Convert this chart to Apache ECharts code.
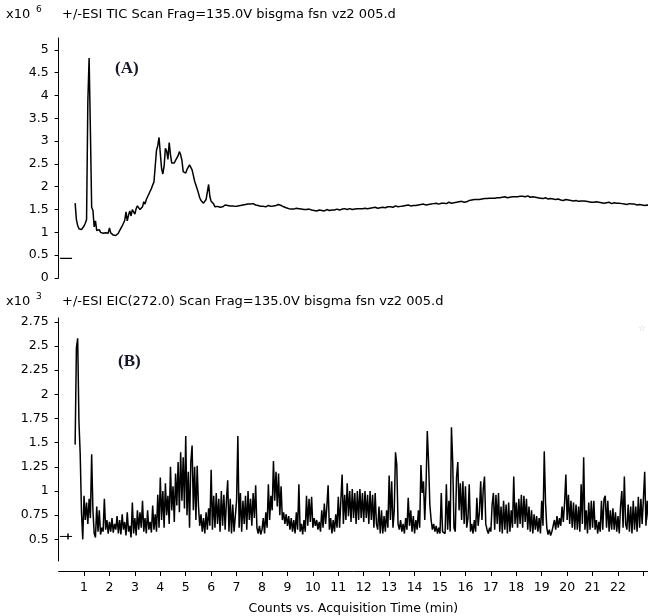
<!DOCTYPE html>
<html>
<head>
<meta charset="utf-8">
<script src="https://cdn.jsdelivr.net/npm/echarts@6/dist/echarts.min.js"></script>
<style>html,body{margin:0;padding:0;background:#fff}#c{width:648px;height:616px}</style>
</head>
<body>
<div id="c"></div>
<script>
// acquisition time of first scan and scan spacing (min)
const T0 = 0.65;
const DT = 0.05;
// TIC intensities (x10^6), one per scan
const tic = [
1.64,1.28,1.15,1.08,1.05,1.06,1.10,
1.14,1.20,1.28,3.86,4.82,3.25,1.55,1.48,1.12,1.25,1.04,1.02,1.06,1.00,1.02,0.98,1.01,0.99,1.03,0.98,
1.10,0.99,0.97,0.94,0.95,0.93,0.96,0.98,1.04,1.08,1.14,1.20,1.26,1.45,1.25,1.38,1.47,1.36,1.50,1.53,
1.40,1.52,1.58,1.60,1.50,1.47,1.56,1.67,1.62,1.72,1.78,1.84,1.90,1.96,2.04,2.10,2.45,2.80,2.90,3.08,
2.73,2.40,2.28,2.45,2.84,2.78,2.60,2.97,2.70,2.52,2.55,2.52,2.58,2.62,2.68,2.77,2.70,2.58,2.33,2.36,
2.30,2.38,2.42,2.48,2.44,2.37,2.25,2.12,2.04,1.95,1.86,1.76,1.70,1.66,1.64,1.68,1.72,1.70,2.05,1.78,
1.68,1.66,1.62,1.56,1.55,1.57,1.56,1.55,1.57,1.56,1.58,1.60,1.61,1.59,1.60,1.58,1.57,1.58,1.56,1.57,
1.56,1.58,1.57,1.59,1.58,1.60,1.59,1.61,1.60,1.62,1.61,1.62,1.60,1.63,1.61,1.60,1.62,1.59,1.58,1.57,
1.56,1.57,1.58,1.56,1.57,1.59,1.58,1.57,1.56,1.58,1.57,1.59,1.60,1.61,1.60,1.59,1.57,1.56,1.55,1.54,
1.53,1.52,1.53,1.51,1.52,1.51,1.52,1.53,1.51,1.52,1.50,1.51,1.52,1.50,1.51,1.50,1.49,1.51,1.50,1.49,
1.50,1.48,1.49,1.47,1.48,1.49,1.50,1.48,1.49,1.47,1.48,1.50,1.49,1.48,1.50,1.49,1.51,1.49,1.50,1.51,
1.50,1.49,1.50,1.51,1.50,1.52,1.51,1.50,1.51,1.52,1.51,1.50,1.52,1.51,1.53,1.52,1.51,1.52,1.53,1.52,
1.52,1.53,1.51,1.52,1.54,1.53,1.52,1.54,1.53,1.55,1.54,1.53,1.55,1.54,1.53,1.55,1.56,1.54,1.55,1.56,
1.55,1.56,1.57,1.55,1.56,1.58,1.57,1.56,1.58,1.57,1.59,1.58,1.57,1.59,1.58,1.60,1.59,1.58,1.60,1.59,
1.60,1.59,1.61,1.60,1.58,1.61,1.60,1.62,1.61,1.60,1.62,1.61,1.63,1.62,1.61,1.63,1.62,1.64,1.63,1.62,
1.63,1.64,1.62,1.64,1.65,1.63,1.64,1.66,1.65,1.64,1.66,1.65,1.67,1.66,1.65,1.67,1.66,1.68,1.67,1.66,
1.68,1.67,1.69,1.70,1.69,1.71,1.70,1.72,1.71,1.72,1.73,1.72,1.74,1.73,1.72,1.74,1.75,1.74,1.73,1.75,
1.74,1.75,1.76,1.75,1.74,1.76,1.77,1.76,1.75,1.77,1.76,1.78,1.77,1.76,1.78,1.77,1.79,1.78,1.77,1.78,
1.79,1.78,1.80,1.79,1.78,1.79,1.77,1.78,1.79,1.80,1.78,1.77,1.79,1.78,1.76,1.77,1.78,1.76,1.77,1.75,
1.76,1.74,1.75,1.76,1.74,1.73,1.75,1.74,1.72,1.73,1.74,1.72,1.71,1.73,1.72,1.71,1.72,1.70,1.71,1.72,
1.70,1.71,1.69,1.70,1.71,1.69,1.68,1.70,1.69,1.68,1.70,1.69,1.68,1.69,1.67,1.68,1.69,1.67,1.68,1.66,
1.67,1.66,1.68,1.67,1.65,1.66,1.67,1.65,1.66,1.64,1.66,1.65,1.64,1.66,1.65,1.63,1.64,1.65,1.63,1.64,
1.63,1.64,1.62,1.63,1.64,1.62,1.63,1.61,1.62,1.63,1.61,1.62,1.60,1.62,1.61,1.60,1.62,1.61,1.59,1.60,
1.60,1.59,1.61,1.60,1.59
];
// EIC(272.0) intensities (x10^3), one per scan
const eic = [
1.48,2.48,2.58,1.72,1.38,0.78,0.50,
0.95,0.70,0.88,0.66,0.92,0.72,1.38,0.80,0.56,0.52,0.84,0.58,0.80,0.55,0.62,0.58,0.92,0.60,0.70,0.56,
0.68,0.58,0.72,0.57,0.66,0.60,0.74,0.56,0.70,0.55,0.76,0.60,0.68,0.54,0.78,0.58,0.64,0.52,0.88,0.56,
0.72,0.54,0.80,0.60,0.78,0.62,0.90,0.58,0.72,0.56,0.80,0.60,0.68,0.57,0.85,0.60,0.76,0.58,0.96,0.62,
1.14,0.70,1.00,0.62,1.08,0.75,0.95,0.66,1.25,0.80,1.05,0.68,1.18,0.85,1.30,0.78,1.40,0.90,1.35,0.82,
1.57,0.75,1.20,0.62,1.30,1.47,0.80,1.25,0.70,1.26,0.85,0.64,0.76,0.58,0.72,0.56,0.78,0.60,0.82,0.64,
1.22,0.60,0.95,0.62,0.98,0.66,0.92,0.58,1.00,0.64,0.96,0.60,0.90,1.11,0.58,0.92,0.56,0.86,0.58,0.60,
0.90,1.57,0.62,0.98,0.58,0.90,0.66,0.95,0.60,1.00,0.70,0.92,0.64,0.98,0.72,1.06,0.62,0.56,0.64,0.55,
0.60,0.72,0.56,0.78,0.62,1.07,0.70,0.95,0.80,1.31,0.90,1.20,0.84,1.18,0.75,1.05,0.70,0.78,0.66,0.76,
0.64,0.74,0.60,0.72,0.58,0.70,0.56,0.78,0.60,1.07,0.58,0.66,0.55,0.70,0.58,0.95,0.64,0.92,0.68,0.94,
0.62,0.72,0.64,0.70,0.60,0.68,0.58,0.80,0.62,0.87,0.66,0.84,1.06,0.60,0.72,0.56,0.70,0.58,0.76,0.62,
0.94,0.62,0.90,1.17,0.66,0.96,0.70,1.08,0.74,1.00,0.68,1.02,0.72,0.98,0.66,1.00,0.70,1.02,0.72,0.98,
0.68,1.00,0.72,0.96,0.66,1.00,0.70,0.96,0.62,0.98,0.66,0.60,0.84,0.56,0.80,0.56,0.74,0.58,0.80,0.62,
1.16,0.70,1.10,0.62,0.80,1.40,1.27,0.66,0.60,0.70,0.58,0.66,0.56,0.72,0.60,0.93,0.64,0.80,0.58,0.74,
0.56,0.70,0.60,0.80,0.62,1.27,0.98,1.10,0.70,1.05,1.62,1.30,0.86,0.70,0.60,0.66,0.58,0.64,0.56,0.62,
0.56,0.98,0.58,0.60,0.56,1.07,0.60,0.90,0.58,1.66,1.30,0.62,0.58,1.14,1.30,0.80,1.08,0.70,1.10,0.66,
1.05,0.62,0.72,1.07,0.58,0.66,0.56,0.70,0.58,0.93,0.64,0.78,1.10,0.70,1.02,1.15,0.66,0.60,0.56,0.62,
0.58,0.86,0.98,0.60,0.96,0.66,0.98,0.58,0.84,0.56,0.90,0.60,0.86,0.56,0.88,0.58,0.80,0.62,1.15,0.66,
0.88,0.62,0.92,0.66,0.96,0.62,0.95,0.68,0.92,0.60,0.84,0.58,0.80,0.56,0.76,0.60,0.74,0.58,0.72,0.56,
0.90,0.64,1.41,0.88,0.62,0.55,0.60,0.54,0.58,0.56,0.70,0.60,0.74,0.62,0.72,0.64,0.84,0.68,0.88,1.17,
0.70,0.96,0.66,0.90,0.62,0.88,0.60,0.86,0.60,0.84,0.58,1.07,0.66,1.35,0.60,0.80,0.56,0.88,0.60,0.90,
0.62,0.90,0.60,0.70,0.56,0.68,0.58,0.90,0.60,0.92,0.95,0.62,0.90,0.58,0.80,0.60,0.82,0.60,0.78,0.58,
0.74,0.56,0.84,1.00,0.62,1.15,0.66,0.60,0.86,0.58,0.84,0.56,0.90,0.60,0.84,0.58,0.94,0.62,0.92,0.66,
0.92,1.20,0.64,0.90,0.70
];
// baseline marker segments at the far left of each trace
const ticMarker = [[0.06, 0.43], [0.53, 0.43]];
const eicMarker = [[0.05, 0.53], [0.37, 0.53], [0.37, 0.56], [0.37, 0.50], [0.37, 0.53], [0.53, 0.53]];
// tick values / labels
const ticTicks = [0, 0.5, 1, 1.5, 2, 2.5, 3, 3.5, 4, 4.5, 5];
const eicTicks = [0.5, 0.75, 1, 1.25, 1.5, 1.75, 2, 2.25, 2.5, 2.75];
const timeTicks = [1,2,3,4,5,6,7,8,9,10,11,12,13,14,15,16,17,18,19,20,21,22,23];
const timeLabels = [1,2,3,4,5,6,7,8,9,10,11,12,13,14,15,16,17,18,19,20,21,22];
const xMax = 23.18;

const toPairs = arr => arr.map((v, i) => [+(T0 + i * DT).toFixed(2), v]);

const FONT = '"DejaVu Sans", "Liberation Sans", sans-serif';
const lbl = {color: '#000', fontFamily: FONT, fontSize: 12.5};
const ink = '#000';

const chart = echarts.init(document.getElementById('c'), null, {renderer: 'canvas'});
chart.setOption({
  animation: false,
  backgroundColor: '#fff',
  grid: [
    {left: 58.6, right: 0, top: 38, height: 240},
    {left: 58.6, right: 0, top: 318, height: 247}
  ],
  xAxis: [
    {type: 'value', gridIndex: 0, min: 0, max: xMax, show: false},
    {type: 'value', gridIndex: 1, min: 0, max: xMax, offset: 10,
     axisLine: {show: true, lineStyle: {color: ink, width: 1}},
     axisTick: {show: true, length: 5, lineStyle: {color: ink}, customValues: timeTicks},
     axisLabel: {show: true, margin: 10, customValues: timeLabels, ...lbl},
     splitLine: {show: false},
     name: 'Counts vs. Acquisition Time (min)', nameLocation: 'middle', nameGap: 31,
     nameTextStyle: {...lbl}}
  ],
  yAxis: [
    {type: 'value', gridIndex: 0, min: 0, max: 5.26, offset: 4,
     axisLine: {show: true, lineStyle: {color: ink, width: 1}},
     axisTick: {show: true, length: 4, lineStyle: {color: ink}, customValues: ticTicks},
     axisLabel: {show: true, margin: 6, customValues: ticTicks, ...lbl},
     splitLine: {show: false}},
    {type: 'value', gridIndex: 1, min: 0.276, max: 2.79, offset: 4,
     axisLine: {show: true, lineStyle: {color: ink, width: 1}},
     axisTick: {show: true, length: 4, lineStyle: {color: ink}, customValues: eicTicks},
     axisLabel: {show: true, margin: 6, customValues: eicTicks, ...lbl},
     splitLine: {show: false}}
  ],
  series: [
    {type: 'line', xAxisIndex: 0, yAxisIndex: 0, data: toPairs(tic), showSymbol: false, symbol: 'none',
     lineStyle: {color: ink, width: 1.5}, silent: true},
    {type: 'line', xAxisIndex: 0, yAxisIndex: 0, data: ticMarker, symbol: 'none',
     lineStyle: {color: ink, width: 1.2}, silent: true},
    {type: 'line', xAxisIndex: 1, yAxisIndex: 1, data: toPairs(eic), showSymbol: false, symbol: 'none',
     lineStyle: {color: ink, width: 1.5}, silent: true},
    {type: 'line', xAxisIndex: 1, yAxisIndex: 1, data: eicMarker, symbol: 'none',
     lineStyle: {color: ink, width: 1}, silent: true}
  ],
  graphic: [
    {type: 'text', left: 6, top: 8, style: {text: 'x10', font: '13px ' + FONT, fill: '#000'}},
    {type: 'text', left: 36, top: 5, style: {text: '6', font: '9px ' + FONT, fill: '#000'}},
    {type: 'text', left: 62, top: 8, style: {text: '+/-ESI TIC Scan Frag=135.0V bisgma fsn vz2 005.d', font: '13px ' + FONT, fill: '#000'}},
    {type: 'text', left: 6, top: 295, style: {text: 'x10', font: '13px ' + FONT, fill: '#000'}},
    {type: 'text', left: 36, top: 292, style: {text: '3', font: '9px ' + FONT, fill: '#000'}},
    {type: 'text', left: 62, top: 295, style: {text: '+/-ESI EIC(272.0) Scan Frag=135.0V bisgma fsn vz2 005.d', font: '13px ' + FONT, fill: '#000'}},
    {type: 'text', left: 115, top: 60, style: {text: '(A)', font: 'bold 17px "Liberation Serif", "Times New Roman", serif', fill: '#14142a'}},
    {type: 'text', left: 118, top: 353, style: {text: '(B)', font: 'bold 17px "Liberation Serif", "Times New Roman", serif', fill: '#14142a'}},
    {type: 'text', left: 638, top: 324, style: {text: '☆', font: '9px "DejaVu Sans"', fill: '#d0d0d0'}}
  ]
});
</script>
</body>
</html>
